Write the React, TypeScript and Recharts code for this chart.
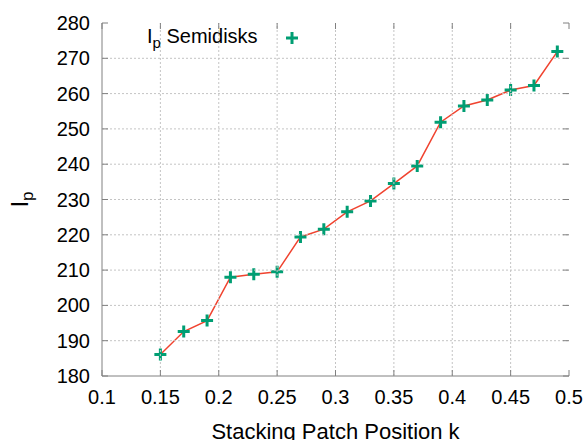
import React from "react";
import {
  LineChart,
  Line,
  XAxis,
  YAxis,
  Legend,
} from "recharts";

const positions = [
  0.15, 0.17, 0.19, 0.21, 0.23, 0.25, 0.27, 0.29, 0.31, 0.33, 0.35, 0.37, 0.39,
  0.41, 0.43, 0.45, 0.47, 0.49,
];
const ipValues = [
  186.1, 192.6, 195.7, 208.0, 208.8, 209.5, 219.4, 221.6, 226.5, 229.6, 234.5,
  239.5, 251.9, 256.5, 258.2, 261.0, 262.3, 271.9,
];
const xTicks = [0.1, 0.15, 0.2, 0.25, 0.3, 0.35, 0.4, 0.45, 0.5];
const yTicks = [180, 190, 200, 210, 220, 230, 240, 250, 260, 270, 280];

const data = positions.map((k, i) => ({ k, ip: ipValues[i] }));

const FONT = "'Liberation Sans', Arial, sans-serif";
const GREEN = "#009e73";
const RED = "#f0432f";
const BORDER = "#808080";
const GRID = "#c4c4c4";

const W = 587;
const H = 440;
const M = { top: 23, right: 18, bottom: 0, left: 0 };
const Y_AXIS_W = 102;
const X_AXIS_H = 64;
const PLOT_W = W - M.left - M.right - Y_AXIS_W;
const PLOT_H = H - M.top - M.bottom - X_AXIS_H;

function PlusDot(props: any) {
  const { cx, cy } = props;
  if (cx == null || cy == null) return null;
  return (
    <path
      d={`M${cx - 6},${cy}h12M${cx},${cy - 6}v12`}
      stroke={GREEN}
      strokeWidth={3}
      fill="none"
    />
  );
}

function BottomTick(props: any) {
  const { x, y, payload, index } = props;
  const inner = index > 0 && index < xTicks.length - 1;
  return (
    <g>
      {inner && (
        <line x1={x} y1={y} x2={x} y2={y - PLOT_H} stroke={GRID} strokeDasharray="2 2" />
      )}
      <line x1={x} y1={y} x2={x} y2={y - 6} stroke={BORDER} />
      <line x1={x} y1={y - PLOT_H} x2={x} y2={y - PLOT_H + 6} stroke={BORDER} />
      <text x={x} y={y + 28} textAnchor="middle" fontSize={20} fontFamily={FONT} fill="#000">
        {payload.value}
      </text>
    </g>
  );
}

function LeftTick(props: any) {
  const { x, y, payload, index } = props;
  const inner = index > 0 && index < yTicks.length - 1;
  return (
    <g>
      {inner && (
        <line x1={x} y1={y} x2={x + PLOT_W} y2={y} stroke={GRID} strokeDasharray="2 2" />
      )}
      <line x1={x} y1={y} x2={x + 6} y2={y} stroke={BORDER} />
      <line x1={x + PLOT_W} y1={y} x2={x + PLOT_W - 6} y2={y} stroke={BORDER} />
      <text x={x - 12} y={y + 7} textAnchor="end" fontSize={20} fontFamily={FONT} fill="#000">
        {payload.value}
      </text>
    </g>
  );
}

function EmptyTick() {
  return <g />;
}

function LegendBox() {
  return (
    <div style={{ display: "flex", alignItems: "center", fontFamily: FONT, fontSize: 20, color: "#000" }}>
      <span>
        I<sub style={{ fontSize: 15, verticalAlign: -5 }}>p</sub> Semidisks
      </span>
      <svg width={16} height={16} style={{ marginLeft: 26 }}>
        <path d="M2,8h12M8,2v12" stroke={GREEN} strokeWidth={3} />
      </svg>
    </div>
  );
}

export default function App() {
  return (
    <div style={{ position: "absolute", left: 0, top: 0, background: "#fff" }}>
      <LineChart width={W} height={H} data={data} margin={M}>
        <XAxis
          dataKey="k"
          type="number"
          domain={[0.1, 0.5]}
          ticks={xTicks}
          tickSize={0}
          tickMargin={0}
          tick={<BottomTick />}
          axisLine={{ stroke: BORDER }}
          height={X_AXIS_H}
          label={(p: any) => {
            const vb = p.viewBox;
            return (
              <text
                x={vb.x + vb.width / 2}
                y={vb.y + 63}
                textAnchor="middle"
                fontSize={22}
                fontFamily={FONT}
                fill="#000"
              >
                Stacking Patch Position k
              </text>
            );
          }}
        />
        <XAxis
          xAxisId="top"
          orientation="top"
          type="number"
          domain={[0.1, 0.5]}
          ticks={xTicks}
          tickSize={0}
          tick={<EmptyTick />}
          axisLine={{ stroke: BORDER }}
          height={0}
        />
        <YAxis
          type="number"
          domain={[180, 280]}
          ticks={yTicks}
          tickSize={0}
          tickMargin={0}
          tick={<LeftTick />}
          axisLine={{ stroke: BORDER }}
          width={Y_AXIS_W}
          label={(p: any) => {
            const vb = p.viewBox;
            const cx = 28;
            const cy = vb.y + vb.height / 2;
            return (
              <text
                transform={`translate(${cx},${cy}) rotate(-90)`}
                textAnchor="middle"
                fontSize={24}
                fontFamily={FONT}
                fill="#000"
              >
                I<tspan fontSize={17} dy={5}>p</tspan>
              </text>
            );
          }}
        />
        <YAxis
          yAxisId="right"
          orientation="right"
          type="number"
          domain={[180, 280]}
          ticks={yTicks}
          tickSize={0}
          tick={<EmptyTick />}
          axisLine={{ stroke: BORDER }}
          width={0}
        />
        <Legend
          verticalAlign="middle"
          layout="horizontal"
          content={<LegendBox />}
          wrapperStyle={{ position: "absolute", top: 25, left: 147, width: "auto" }}
        />
        <Line
          type="linear"
          dataKey="ip"
          stroke={RED}
          strokeWidth={1.5}
          dot={<PlusDot />}
          activeDot={false}
          isAnimationActive={false}
          legendType="none"
        />
      </LineChart>
    </div>
  );
}
